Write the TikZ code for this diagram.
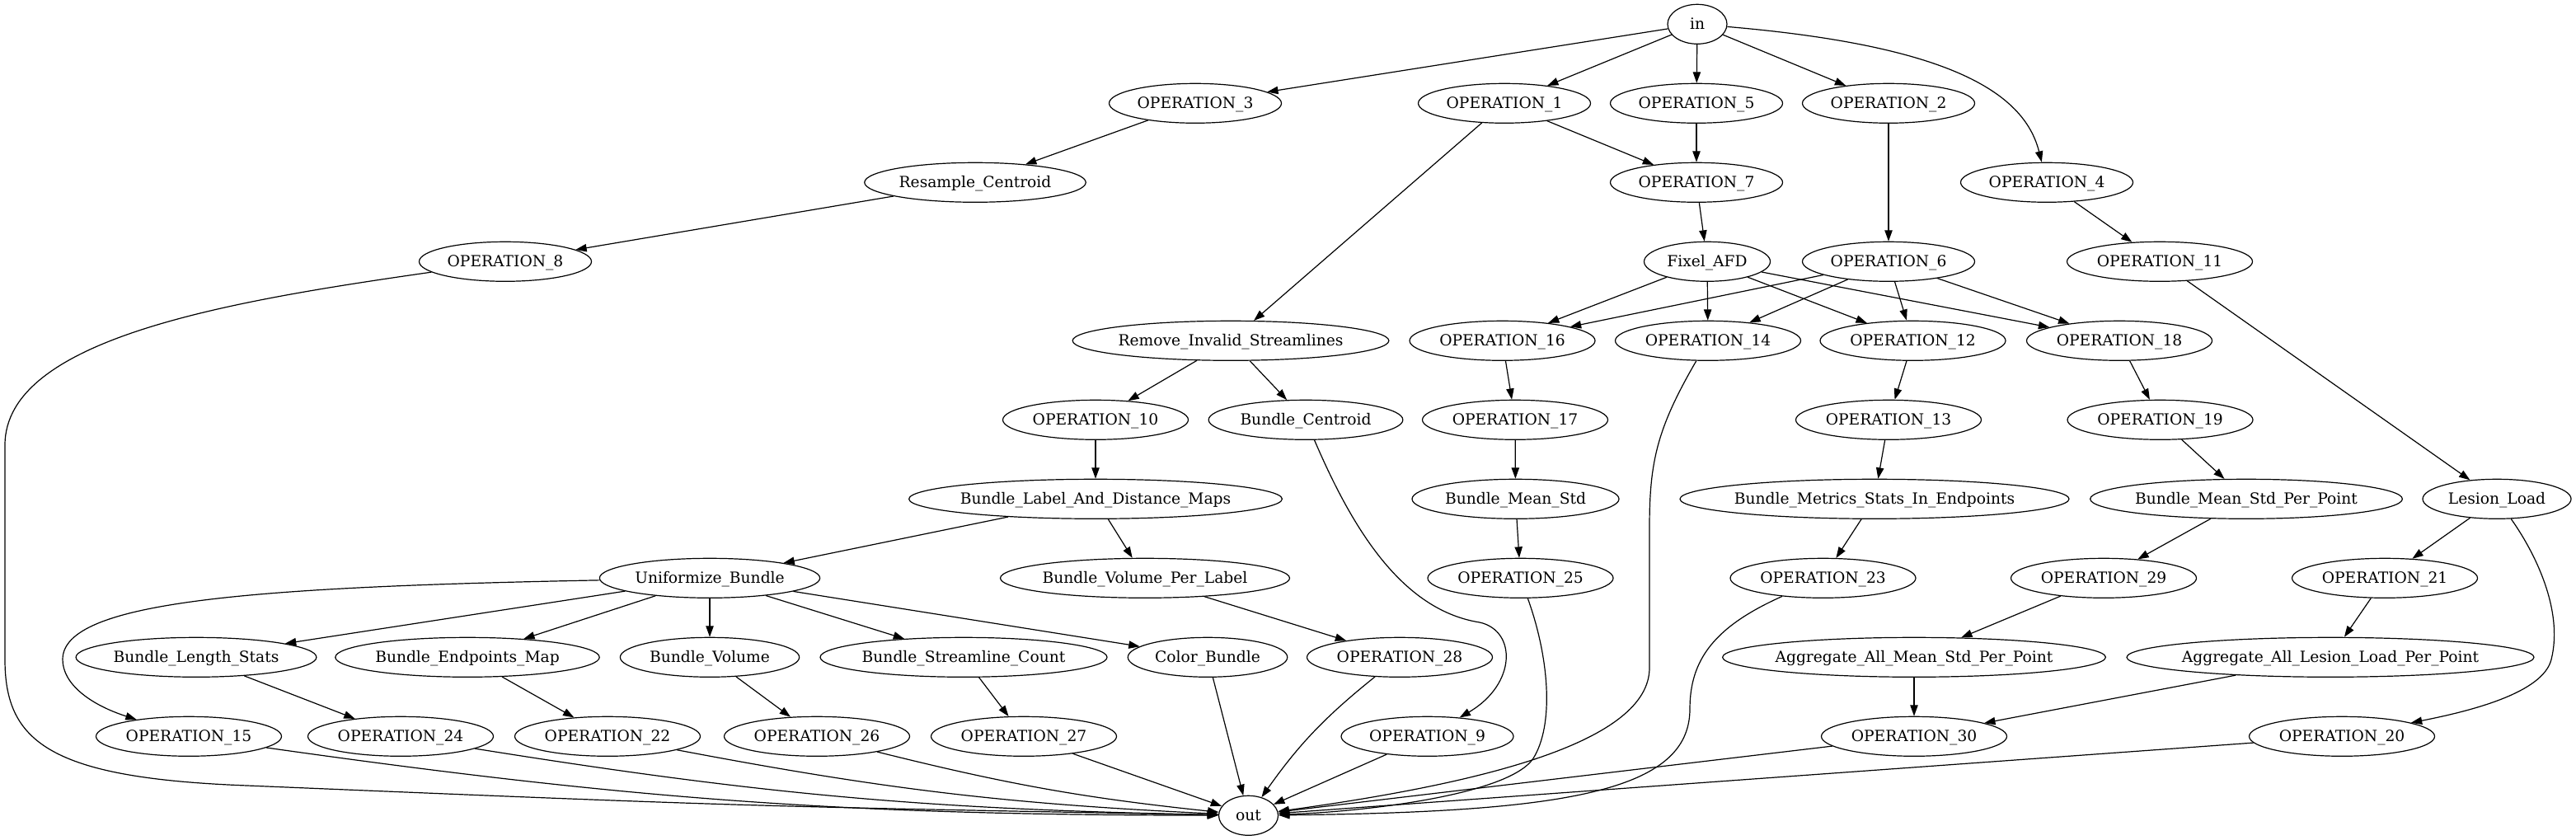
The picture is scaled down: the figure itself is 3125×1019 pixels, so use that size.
\documentclass[tikz,border=0pt]{standalone}
\usepackage{fontspec}
\setmainfont{DejaVu Serif}
\usetikzlibrary{arrows.meta,shapes.geometric}
\newcommand{\nlab}[1]{\makebox[0pt]{#1}}
\begin{document}
\begin{tikzpicture}[x=0.75pt,y=-0.75pt,
  font=\fontsize{14pt}{16pt}\selectfont,
  nd/.style={draw, ellipse, inner sep=0pt, minimum height=36pt, text height=10pt, text depth=0pt, line width=0.9pt},
  wd/.style={minimum width=#1*0.75pt},
  ed/.style={-{Triangle[length=10pt,width=7pt]}, line width=0.9pt}]
\useasboundingbox (0,0) rectangle (3125,1019);
% rank 0
\node[nd,wd=72] (in) at (2059,29.3) {\nlab{in}};
% rank 1
\node[nd,wd=209] (op3) at (1450,125.3) {\nlab{OPERATION\_3}};
\node[nd,wd=209] (op1) at (1825,125.3) {\nlab{OPERATION\_1}};
\node[nd,wd=209] (op5) at (2058,125.3) {\nlab{OPERATION\_5}};
\node[nd,wd=209] (op2) at (2291,125.3) {\nlab{OPERATION\_2}};
% rank 2
\node[nd,wd=268.5] (rc) at (1183,221.3) {\nlab{Resample\_Centroid}};
\node[nd,wd=209] (op7) at (2058,221.3) {\nlab{OPERATION\_7}};
\node[nd,wd=209] (op4) at (2483,221.3) {\nlab{OPERATION\_4}};
% rank 3
\node[nd,wd=209] (op8) at (613,317.3) {\nlab{OPERATION\_8}};
\node[nd,wd=153] (fx) at (2071,317.3) {\nlab{Fixel\_AFD}};
\node[nd,wd=209] (op6) at (2291,317.3) {\nlab{OPERATION\_6}};
\node[nd,wd=225] (op11) at (2620,317.3) {\nlab{OPERATION\_11}};
% rank 4
\node[nd,wd=383.7] (rm) at (1493,413.3) {\nlab{Remove\_Invalid\_Streamlines}};
\node[nd,wd=225] (op16) at (1822.5,413.3) {\nlab{OPERATION\_16}};
\node[nd,wd=225] (op14) at (2072,413.3) {\nlab{OPERATION\_14}};
\node[nd,wd=225] (op12) at (2320.5,413.3) {\nlab{OPERATION\_12}};
\node[nd,wd=225] (op18) at (2571,413.3) {\nlab{OPERATION\_18}};
% rank 5
\node[nd,wd=225] (op10) at (1329,509.3) {\nlab{OPERATION\_10}};
\node[nd,wd=235.7] (bc) at (1584,509.3) {\nlab{Bundle\_Centroid}};
\node[nd,wd=225] (op17) at (1838,509.3) {\nlab{OPERATION\_17}};
\node[nd,wd=225] (op13) at (2291,509.3) {\nlab{OPERATION\_13}};
\node[nd,wd=225] (op19) at (2620.5,509.3) {\nlab{OPERATION\_19}};
% rank 6
\node[nd,wd=452.7] (bla) at (1329,605.3) {\nlab{Bundle\_Label\_And\_Distance\_Maps}};
\node[nd,wd=251] (bms) at (1838.5,605.3) {\nlab{Bundle\_Mean\_Std}};
\node[nd,wd=472] (bmet) at (2274,605.3) {\nlab{Bundle\_Metrics\_Stats\_In\_Endpoints}};
\node[nd,wd=378.7] (bmspp) at (2725,605.3) {\nlab{Bundle\_Mean\_Std\_Per\_Point}};
\node[nd,wd=180] (ll) at (3029,605.3) {\nlab{Lesion\_Load}};
% rank 7
\node[nd,wd=267.3] (ub) at (861,701.3) {\nlab{Uniformize\_Bundle}};
\node[nd,wd=351] (bvpl) at (1389,701.3) {\nlab{Bundle\_Volume\_Per\_Label}};
\node[nd,wd=225] (op25) at (1844.5,701.3) {\nlab{OPERATION\_25}};
\node[nd,wd=225] (op23) at (2211.5,701.3) {\nlab{OPERATION\_23}};
\node[nd,wd=225] (op29) at (2552,701.3) {\nlab{OPERATION\_29}};
\node[nd,wd=225] (op21) at (2893,701.3) {\nlab{OPERATION\_21}};
% rank 8
\node[nd,wd=291.8] (bls) at (238,797.3) {\nlab{Bundle\_Length\_Stats}};
\node[nd,wd=320.4] (bem) at (567,797.3) {\nlab{Bundle\_Endpoints\_Map}};
\node[nd,wd=217.3] (bv) at (861,797.3) {\nlab{Bundle\_Volume}};
\node[nd,wd=348] (bsc) at (1169,797.3) {\nlab{Bundle\_Streamline\_Count}};
\node[nd,wd=193.5] (cb) at (1465,797.3) {\nlab{Color\_Bundle}};
\node[nd,wd=225] (op28) at (1698,797.3) {\nlab{OPERATION\_28}};
\node[nd,wd=464.7] (aam) at (2322,797.3) {\nlab{Aggregate\_All\_Mean\_Std\_Per\_Point}};
\node[nd,wd=494] (aal) at (2827,797.3) {\nlab{Aggregate\_All\_Lesion\_Load\_Per\_Point}};
% rank 9
\node[nd,wd=225] (op15) at (229,893.3) {\nlab{OPERATION\_15}};
\node[nd,wd=225] (op24) at (486,893.3) {\nlab{OPERATION\_24}};
\node[nd,wd=225] (op22) at (737,893.3) {\nlab{OPERATION\_22}};
\node[nd,wd=225] (op26) at (991,893.3) {\nlab{OPERATION\_26}};
\node[nd,wd=225] (op27) at (1242,893.3) {\nlab{OPERATION\_27}};
\node[nd,wd=209] (op9) at (1731.5,893.3) {\nlab{OPERATION\_9}};
\node[nd,wd=225] (op30) at (2322,893.3) {\nlab{OPERATION\_30}};
\node[nd,wd=225] (op20) at (2841,893.3) {\nlab{OPERATION\_20}};
% rank 10
\node[nd,wd=72] (out) at (1514.5,989.3) {\nlab{out}};

% edges from in
\draw[ed] (in) -- (op3);
\draw[ed] (in) -- (op1);
\draw[ed] (in) -- (op5);
\draw[ed] (in) -- (op2);
\draw[ed] (in) .. controls (2360,55) and (2455,110) .. (op4);
% left chain
\draw[ed] (op3) -- (rc);
\draw[ed] (rc) -- (op8);
\draw[ed] (op8) .. controls (280,365) and (6,410) .. (6,540) -- (6,800)
   .. controls (6,900) and (60,944) .. (300,953) .. controls (900,978) .. (out);
% middle
\draw[ed] (op1) -- (op7);
\draw[ed] (op1) -- (rm);
\draw[ed] (op5) -- (op7);
\draw[ed] (op7) -- (fx);
\draw[ed] (op2) -- (op6);
\draw[ed] (op4) -- (op11);
\draw[ed] (op11) -- (ll);
\draw[ed] (fx) -- (op16);
\draw[ed] (fx) -- (op14);
\draw[ed] (fx) -- (op12);
\draw[ed] (fx) -- (op18);
\draw[ed] (op6) -- (op16);
\draw[ed] (op6) -- (op14);
\draw[ed] (op6) -- (op12);
\draw[ed] (op6) -- (op18);
\draw[ed] (rm) -- (op10);
\draw[ed] (rm) -- (bc);
\draw[ed] (op10) -- (bla);
\draw[ed] (bc) .. controls (1640,640) and (1700,740) .. (1795,755)
   .. controls (1840,765) and (1840,830) .. (op9);
\draw[ed] (op16) -- (op17);
\draw[ed] (op17) -- (bms);
\draw[ed] (bms) -- (op25);
\draw[ed] (op25) .. controls (1880,800) and (1885,880) .. (1860,920)
   .. controls (1830,965) and (1650,985) .. (out);
\draw[ed] (op14) .. controls (2010,520) and (2001,560) .. (2001,640) -- (2001,810)
   .. controls (2001,900) and (1800,950) .. (out);
\draw[ed] (op12) -- (op13);
\draw[ed] (op13) -- (bmet);
\draw[ed] (bmet) -- (op23);
\draw[ed] (op23) .. controls (2080,760) and (2050,800) .. (2050,860)
   .. controls (2050,960) and (1900,985) .. (out);
\draw[ed] (op18) -- (op19);
\draw[ed] (op19) -- (bmspp);
\draw[ed] (bmspp) -- (op29);
\draw[ed] (op29) -- (aam);
\draw[ed] (aam) -- (op30);
\draw[ed] (op30) -- (out);
\draw[ed] (ll) -- (op21);
\draw[ed] (op21) -- (aal);
\draw[ed] (aal) -- (op30);
\draw[ed] (ll) .. controls (3075,670) and (3110,740) .. (3095,800)
   .. controls (3085,840) and (3000,862) .. (op20);
\draw[ed] (op20) -- (out);
% bundle label branch
\draw[ed] (bla) -- (ub);
\draw[ed] (bla) -- (bvpl);
\draw[ed] (bvpl) -- (op28);
\draw[ed] (op28) to[bend right=8] (out);
\draw[ed] (ub) .. controls (300,712) and (76,730) .. (76,800)
   .. controls (76,830) and (110,855) .. (op15);
\draw[ed] (ub) -- (bls);
\draw[ed] (ub) -- (bem);
\draw[ed] (ub) -- (bv);
\draw[ed] (ub) -- (bsc);
\draw[ed] (ub) -- (cb);
\draw[ed] (bls) -- (op24);
\draw[ed] (bem) -- (op22);
\draw[ed] (bv) -- (op26);
\draw[ed] (bsc) -- (op27);
\draw[ed] (op15) to[bend right=4] (out);
\draw[ed] (op24) to[bend right=4] (out);
\draw[ed] (op22) to[bend right=4] (out);
\draw[ed] (op26) to[bend right=4] (out);
\draw[ed] (op27) -- (out);
\draw[ed] (cb) -- (out);
\draw[ed] (op9) -- (out);
\end{tikzpicture}
\end{document}
